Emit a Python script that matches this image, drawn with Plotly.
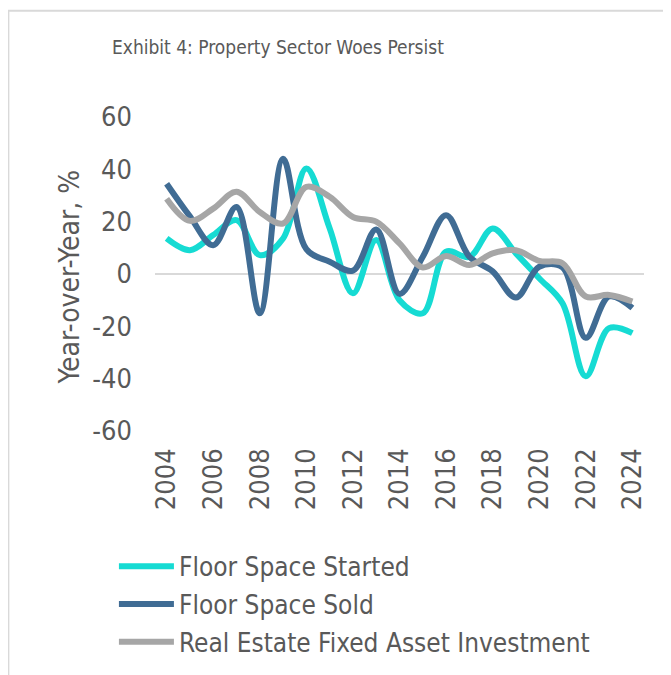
import plotly.graph_objects as go

years = list(range(2004, 2025))
floor_space_started = [13.6, 9.1, 14.9, 20.6, 7.2, 13.6, 40.3, 17.5, -7.4, 13.0, -10.0,
                       -15.0, 8.5, 6.5, 17.4, 7.9, -1.6, -11.2, -39.1, -20.7, -22.6]
floor_space_sold = [34.5, 22.0, 11.0, 25.6, -15.0, 44.0, 9.5, 4.7, 1.3, 17.0, -7.6,
                    6.6, 22.5, 6.6, 1.0, -9.0, 2.8, 2.5, -24.4, -8.6, -13.0]
fixed_asset_inv = [28.8, 20.3, 25.0, 31.4, 23.7, 19.3, 33.3, 29.5, 21.8, 20.0, 11.7,
                   2.5, 6.9, 3.4, 7.9, 9.1, 5.0, 4.1, -8.6, -8.0, -10.5]
y_ticks = [-60, -40, -20, 0, 20, 40, 60]

FONT = 'DejaVu Sans Condensed, DejaVu Sans, sans-serif'
TXT = '#595959'

series = [
    ('Floor Space Started', floor_space_started, '#16dbd3'),
    ('Floor Space Sold', floor_space_sold, '#406c94'),
    ('Real Estate Fixed Asset Investment', fixed_asset_inv, '#a6a6a6'),
]

# page body has an 8px margin, so the figure is a bit smaller than the window
W, H = 663, 667
L, T, R, B = 147.4, 108.5, 27.4, 243.5
pw, ph = W - L - R, H - T - B

fig = go.Figure()
for i, (name, vals, color) in enumerate(series):
    fig.add_trace(go.Scatter(
        x=years, y=vals, name=name, mode='lines',
        line=dict(color=color, width=6, shape='spline', smoothing=1.0),
        legendgroup=str(i),
    ))

fig.update_layout(
    width=W, height=H,
    margin=dict(l=L, r=R, t=T, b=B, autoexpand=False),
    paper_bgcolor='white', plot_bgcolor='white',
    font=dict(family=FONT, color=TXT, size=27),
    title=dict(text='Exhibit 4: Property Sector Woes Persist',
               font=dict(size=19, color=TXT),
               x=104 / W, xanchor='left', xref='container',
               y=1 - 39 / H, yanchor='middle', yref='container'),
    legend=dict(x=-0.084, xanchor='left', y=-0.356, yanchor='top',
                font=dict(size=26, color=TXT), tracegroupgap=1,
                traceorder='grouped', itemwidth=55, bgcolor='rgba(0,0,0,0)'),
    showlegend=True,
)
fig.update_xaxes(range=[2003.5, 2024.5], tick0=2004, dtick=2, tickangle=-90,
                 showgrid=False, zeroline=False, showline=False,
                 ticklabelstandoff=11, automargin=False)
fig.update_yaxes(range=[-60, 60], tickvals=y_ticks,
                 ticktext=[str(v) for v in y_ticks], showgrid=False,
                 zeroline=True, zerolinecolor='#d9d9d9', zerolinewidth=2,
                 showline=False, ticklabelstandoff=22, automargin=False)

fig.add_annotation(text='Year-over-Year, %', textangle=-90,
                   xref='paper', yref='paper', x=(62 - L) / pw, y=0.49,
                   xanchor='center', yanchor='middle',
                   showarrow=False, font=dict(size=28, color=TXT))

# outer frame, only its top and left edges fall inside the picture
fig.add_shape(type='rect', xref='paper', yref='paper',
              x0=(1 - L) / pw, x1=2, y0=-2, y1=(ph + T - 2) / ph,
              line=dict(color='#d9d9d9', width=2), layer='below')

fig.write_html('out.html')
